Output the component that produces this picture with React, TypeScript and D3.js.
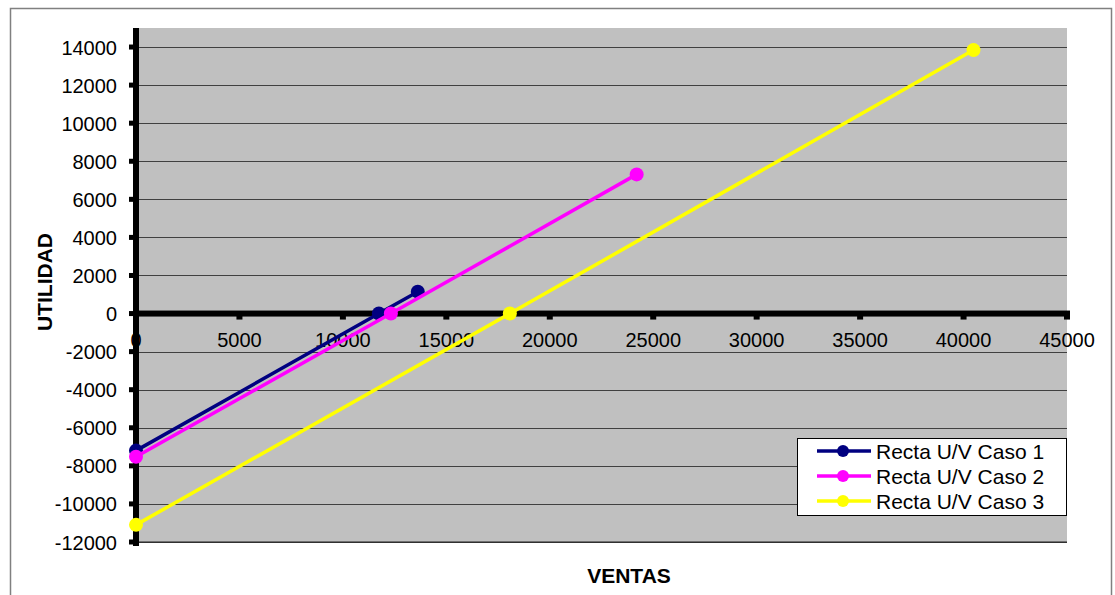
import * as d3 from "d3";

// series: [ventas, utilidad]
const caso1: [number, number][] = [
  [0, -7200],
  [11740, 0],
  [13620, 1150],
];
const caso2: [number, number][] = [
  [0, -7520],
  [12320, 0],
  [24200, 7310],
];
const caso3: [number, number][] = [
  [0, -11100],
  [18070, 0],
  [40480, 13840],
];
const seriesNames = ["Recta U/V Caso 1", "Recta U/V Caso 2", "Recta U/V Caso 3"];
const seriesColors = ["#000080", "#FF00FF", "#FFFF00"];
const xTicks = [0, 5000, 10000, 15000, 20000, 25000, 30000, 35000, 40000, 45000];
const yTicks = [-12000, -10000, -8000, -6000, -4000, -2000, 0, 2000, 4000, 6000, 8000, 10000, 12000, 14000];

const width = 1115;
const height = 595;
const plot = { left: 136, right: 1067, top: 28, bottom: 542 };

export default function App() {
  const x = d3.scaleLinear().domain([0, 45000]).range([plot.left, plot.right]);
  const y = d3.scaleLinear().domain([-12000, 15000]).range([plot.bottom, plot.top]);
  const line = d3
    .line<[number, number]>()
    .x((d) => x(d[0]))
    .y((d) => y(d[1]));
  const series = [caso1, caso2, caso3];
  const font = "'Liberation Sans', Arial, sans-serif";

  return (
    <svg
      width={width}
      height={height}
      style={{ position: "absolute", left: 0, top: 0, fontFamily: font }}
    >
      <rect x={0} y={0} width={width} height={height} fill="#fff" />
      <rect x={10.5} y={8.5} width={1101} height={600} fill="#fff" stroke="#808080" strokeWidth={1.5} />

      {/* plot area */}
      <rect
        x={plot.left}
        y={plot.top}
        width={plot.right - plot.left}
        height={plot.bottom - plot.top}
        fill="#C0C0C0"
      />
      {yTicks
        .filter((t) => t !== 0)
        .map((t) => (
          <line
            key={t}
            x1={plot.left}
            x2={plot.right}
            y1={Math.round(y(t)) + 0.5}
            y2={Math.round(y(t)) + 0.5}
            stroke="#404040"
            strokeWidth={1}
          />
        ))}
      <line x1={plot.left} x2={plot.right} y1={plot.bottom} y2={plot.bottom} stroke="#202020" strokeWidth={1.2} />

      {/* x tick labels */}
      {xTicks.map((t) => (
        <text key={t} x={x(t)} y={347} textAnchor="middle" fontSize={20} fill="#000">
          {t}
        </text>
      ))}

      {/* y ticks + labels */}
      {yTicks.map((t) => (
        <g key={t}>
          <rect x={129} y={y(t) - 2.5} width={6} height={5} fill="#000" />
          <text x={117} y={y(t) + 7.5} textAnchor="end" fontSize={20} fill="#000">
            {t}
          </text>
        </g>
      ))}

      {/* x axis at 0 */}
      <rect x={plot.left} y={y(0) - 3} width={plot.right - plot.left + 3} height={6} fill="#000" />
      {xTicks
        .filter((t) => t !== 0)
        .map((t) => (
          <rect key={t} x={x(t) - 3} y={y(0)} width={6} height={6} fill="#000" />
        ))}
      {/* y axis */}
      <rect x={plot.left - 3} y={plot.top} width={6} height={plot.bottom - plot.top + 4} fill="#000" />

      {/* series */}
      {series.map((s, i) => (
        <g key={i}>
          <path d={line(s) ?? ""} fill="none" stroke={seriesColors[i]} strokeWidth={3.5} />
          {s.map((d, j) => (
            <circle key={j} cx={x(d[0])} cy={y(d[1])} r={7} fill={seriesColors[i]} />
          ))}
        </g>
      ))}

      {/* legend */}
      <rect x={797.5} y={438.5} width={269} height={77} fill="#fff" stroke="#000" strokeWidth={1} />
      {seriesNames.map((n, i) => (
        <g key={n} transform={`translate(0, ${451 + i * 25})`}>
          <line x1={817} x2={871} y1={0} y2={0} stroke={seriesColors[i]} strokeWidth={3.5} />
          <circle cx={843} cy={0} r={6} fill={seriesColors[i]} />
          <text x={876} y={7.5} fontSize={21} fill="#000">
            {n}
          </text>
        </g>
      ))}

      {/* axis titles */}
      <text
        transform={`translate(52, 282) rotate(-90)`}
        textAnchor="middle"
        fontSize={21}
        fontWeight="bold"
        fill="#000"
      >
        UTILIDAD
      </text>
      <text x={629} y={583} textAnchor="middle" fontSize={21} fontWeight="bold" fill="#000">
        VENTAS
      </text>
    </svg>
  );
}
